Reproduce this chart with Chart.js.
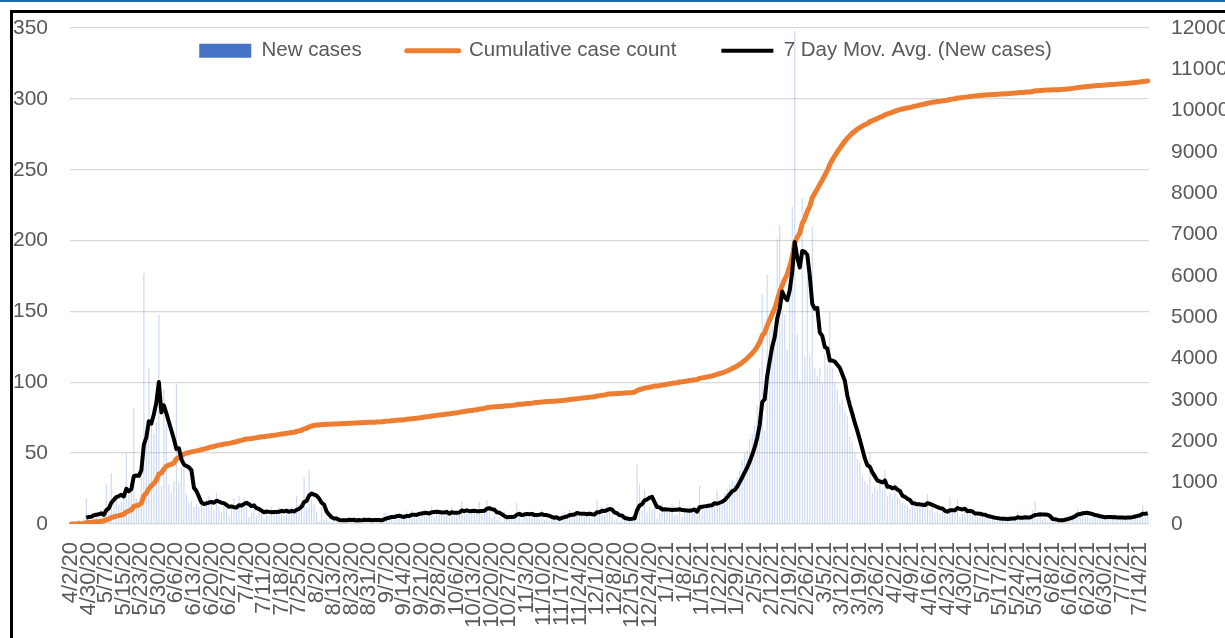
<!DOCTYPE html>
<html>
<head>
<meta charset="utf-8">
<script src="https://cdn.jsdelivr.net/npm/chart.js@4.4.1/dist/chart.umd.min.js"></script>
<style>
  html, body { margin: 0; padding: 0; background: #fff; }
  #wrap { position: relative; width: 1225px; height: 638px; overflow: hidden; }
  #cases { position: absolute; left: 0; top: 0; }
  #topline { position: absolute; left: 0; top: 0; width: 1225px; height: 2px; background: #1f6aa5; }
  #frame { position: absolute; left: 10px; top: 10px; right: 0; bottom: 0; border-left: 3px solid #000; border-top: 3px solid #000; pointer-events: none; }
</style>
</head>
<body>
<div id="wrap">
  <canvas id="cases" width="1225" height="638"></canvas>
  <div id="topline"></div>
  <div id="frame"></div>
</div>
<script>
// shown x labels, one every 7 categories
var tickLabels = ['4/2/20', '4/30/20', '5/7/20', '5/15/20', '5/23/20', '5/30/20', '6/6/20', '6/13/20',
  '6/20/20', '6/27/20', '7/4/20', '7/11/20', '7/18/20', '7/25/20', '8/2/20', '8/13/20', '8/23/20',
  '8/31/20', '9/7/20', '9/14/20', '9/21/20', '9/28/20', '10/6/20', '10/13/20', '10/20/20', '10/27/20',
  '11/3/20', '11/10/20', '11/17/20', '11/24/20', '12/1/20', '12/8/20', '12/15/20', '12/24/20',
  '1/1/21', '1/8/21', '1/15/21', '1/22/21', '1/29/21', '2/5/21', '2/12/21', '2/19/21', '2/26/21',
  '3/5/21', '3/12/21', '3/19/21', '3/26/21', '4/2/21', '4/9/21', '4/16/21', '4/23/21', '4/30/21',
  '5/7/21', '5/17/21', '5/24/21', '5/31/21', '6/8/21', '6/16/21', '6/23/21', '6/30/21', '7/7/21', '7/14/21'];

// daily new cases, 7 per row
var newCases = [
  1, 2, 1, 3, 2, 4, 18,
  5, 3, 8, 6, 4, 9, 10,
  28, 12, 36, 20, 18, 14, 16,
  20, 50, 24, 30, 82, 18, 14,
  47, 177, 60, 110, 70, 64, 72,
  148, 27, 95, 70, 28, 22, 30,
  99, 30, 40, 45, 21, 15, 16,
  12, 14, 12, 16, 14, 18, 20,
  15, 10, 22, 12, 8, 16, 11,
  6, 12, 18, 10, 20, 14, 19,
  12, 5, 8, 14, 6, 10, 11,
  4, 9, 6, 12, 7, 10, 12,
  9, 6, 10, 6, 12, 7, 20,
  14, 16, 33, 12, 38, 18, 14,
  9, 2, 12, 3, 4, 2, 1,
  3, 2, 5, 1, 4, 2, 4,
  2, 3, 1, 4, 2, 5, 3,
  3, 1, 2, 4, 2, 3, 8,
  8, 4, 6, 3, 7, 5, 4,
  6, 9, 5, 10, 7, 4, 9,
  8, 11, 6, 7, 13, 5, 10,
  7, 9, 6, 10, 4, 12, 7,
  8, 10, 16, 6, 9, 7, 8,
  9, 8, 16, 7, 10, 17, 11,
  4, 6, 3, 5, 2, 9, 4,
  5, 7, 4, 15, 6, 3, 7,
  8, 5, 6, 9, 7, 4, 10,
  3, 5, 2, 4, 3, 6, 2,
  8, 9, 5, 10, 6, 7, 9,
  6, 8, 5, 7, 9, 4, 8,
  17, 8, 12, 6, 14, 9, 6,
  2, 4, 2, 5, 3, 5, 4,
  3, 6, 42, 28, 10, 24, 8,
  12, 10, 16, 4, 8, 14, 9,
  11, 9, 14, 6, 7, 17, 5,
  10, 8, 12, 9, 11, 6, 27,
  12, 10, 14, 11, 13, 16, 24,
  17, 15, 22, 25, 28, 31, 30,
  33, 38, 45, 50, 52, 60, 64,
  70, 84, 110, 162, 66, 176, 137,
  140, 133, 201, 211, 150, 148, 123,
  189, 224, 348, 134, 101, 230, 118,
  175, 119, 210, 110, 105, 110, 100,
  120, 112, 150, 110, 100, 95, 85,
  88, 80, 76, 62, 58, 50, 46,
  44, 34, 30, 28, 51, 22, 26,
  24, 30, 24, 38, 20, 22, 18,
  29, 19, 17, 15, 14, 13, 11,
  14, 17, 13, 15, 12, 11, 21,
  10, 12, 8, 9, 7, 10, 9,
  6, 19, 8, 9, 18, 5, 7,
  9, 7, 10, 6, 8, 5, 6,
  5, 6, 4, 3, 5, 2, 4,
  3, 5, 4, 2, 6, 3, 4,
  9, 3, 4, 4, 5, 3, 10,
  16, 4, 6, 3, 5, 2, 3,
  2, 3, 2, 2, 4, 5, 6,
  6, 7, 8, 11, 6, 9, 7,
  7, 4, 5, 6, 4, 5, 5,
  4, 6, 5, 4, 5, 3, 5,
  4, 5, 6, 4, 7, 6, 8,
  7, 13, 5, 7
];

var seriesNames = ['New cases', 'Cumulative case count', '7 Day Mov. Avg. (New cases)'];

var categories = newCases.map(function (v, i) {
  return i % 7 === 0 ? (tickLabels[i / 7] || '') : '';
});

// running total and Excel style 7 period trendline of the bars
var cumulative = [];
var total = 0;
newCases.forEach(function (v) {
  total += v;
  cumulative.push(total);
});
var movAvg = newCases.map(function (v, i) {
  if (i < 6) return null;
  var s = 0;
  for (var k = i - 6; k <= i; k++) s += newCases[k];
  return s / 7;
});

var family = "'Liberation Sans', Arial, sans-serif";
var grey = '#595959';

// legend sits inside the plot, so it must not take space from the layout
var legendInPlot = {
  id: 'legendInPlot',
  afterInit: function (chart) {
    var lg = chart.legend;
    var fit = lg.fit;
    lg.fit = function () {
      fit.call(this);
      this.realHeight = this.height;
      this.height = 0;
    };
  },
  afterLayout: function (chart) {
    var lg = chart.legend;
    lg.top = -4.5;
    lg.height = lg.realHeight;
    lg.bottom = lg.top + lg.realHeight;
    lg.left = 13;
    lg.right = 1238;
  }
};

var ctx = document.getElementById('cases');
var casesChart = new Chart(ctx, {
  type: 'bar',
  data: {
    labels: categories,
    datasets: [{
      type: 'line',
      label: seriesNames[2],
      data: movAvg,
      borderColor: '#000000',
      borderWidth: 4,
      borderJoinStyle: 'round',
      pointRadius: 0,
      tension: 0,
      yAxisID: 'y',
      order: 1
    }, {
      type: 'line',
      label: seriesNames[1],
      data: cumulative,
      borderColor: '#ED7D31',
      borderWidth: 5,
      borderJoinStyle: 'round',
      borderCapStyle: 'round',
      pointRadius: 0,
      tension: 0,
      yAxisID: 'y1',
      order: 2
    }, {
      label: seriesNames[0],
      data: newCases,
      backgroundColor: 'rgba(68, 114, 196, 0.28)',
      barPercentage: 0.45,
      categoryPercentage: 1,
      yAxisID: 'y',
      order: 3
    }]
  },
  options: {
    responsive: false,
    animation: false,
    layout: { padding: { top: 28, left: 0, right: 0, bottom: 0 } },
    plugins: {
      tooltip: { enabled: false },
      legend: {
        position: 'top',
        labels: {
          usePointStyle: true,
          pointStyleWidth: 52,
          boxHeight: 14,
          padding: 45,
          color: grey,
          font: { family: family, size: 20.5 },
          generateLabels: function () {
            return [
              { text: seriesNames[0], fillStyle: '#4472C4', strokeStyle: '#4472C4', lineWidth: 0, pointStyle: 'rect', fontColor: grey, datasetIndex: 2 },
              { text: seriesNames[1], fillStyle: '#ED7D31', strokeStyle: '#ED7D31', lineWidth: 5, lineCap: 'round', pointStyle: 'line', fontColor: grey, datasetIndex: 1 },
              { text: seriesNames[2], fillStyle: '#000000', strokeStyle: '#000000', lineWidth: 4, pointStyle: 'line', fontColor: grey, datasetIndex: 0 }
            ];
          }
        }
      }
    },
    scales: {
      x: {
        grid: { display: false, drawTicks: false },
        border: { display: false },
        ticks: {
          autoSkip: false,
          minRotation: 90,
          maxRotation: 90,
          padding: 18,
          color: grey,
          font: { family: family, size: 22 }
        },
        afterFit: function (scale) { scale.height = 114; }
      },
      y: {
        position: 'left',
        min: 0,
        max: 350,
        // gap to the labels comes from an invisible tick mark, not from padding
        ticks: { stepSize: 50, padding: 0, color: grey, font: { family: family, size: 21 } },
        grid: { color: '#d9d9d9', lineWidth: 1.3, drawTicks: true, tickLength: 22, tickColor: 'rgba(0,0,0,0)' },
        border: { display: false },
        afterFit: function (scale) { scale.width = 70; }
      },
      y1: {
        position: 'right',
        min: 0,
        max: 12000,
        ticks: {
          stepSize: 1000,
          padding: 0,
          color: grey,
          font: { family: family, size: 21 },
          callback: function (value) { return String(value); }
        },
        grid: { color: 'rgba(0,0,0,0)', drawOnChartArea: false, drawTicks: true, tickLength: 22, tickColor: 'rgba(0,0,0,0)' },
        border: { display: false },
        afterFit: function (scale) { scale.width = 76; }
      }
    }
  },
  plugins: [legendInPlot]
});
</script>
</body>
</html>
